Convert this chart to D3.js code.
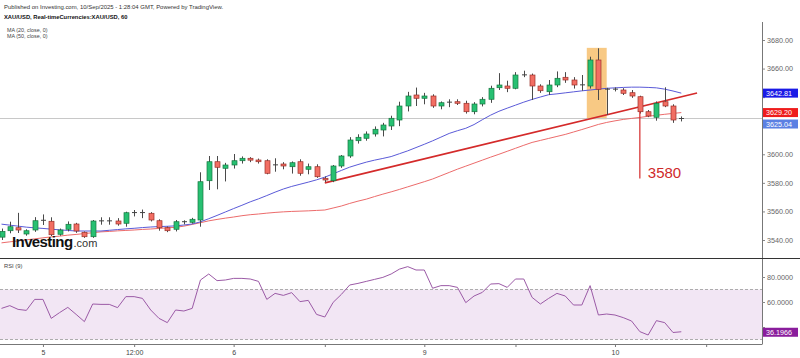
<!DOCTYPE html>
<html><head><meta charset="utf-8">
<script src="https://cdn.jsdelivr.net/npm/d3@7"></script>
<style>body{margin:0;background:#fff}svg{display:block;font-family:Arial,"Liberation Sans",sans-serif}</style>
</head><body><svg id="c" width="800" height="358"></svg>
<script>
// ---- data ----
const opens  = [3542,3546.5,3548.6,3544.2,3547,3553.2,3553.1,3544,3547.5,3551.2,3545.4,3542.3,3553.2,3553.4,3553.3,3551.7,3559.0,3559.2,3558.7,3553.5,3548.6,3547.5,3552.8,3552.4,3554,3581.5,3594.8,3590.2,3592.5,3595.5,3597.2,3596,3595.5,3592.3,3593.2,3591.3,3594.8,3589.5,3591.3,3583.2,3581.5,3591.8,3598.8,3609.5,3611.2,3614.2,3617,3619.8,3624,3633.8,3641.5,3639.2,3640.8,3633.8,3636.3,3636.8,3635.7,3629.8,3635.2,3638.5,3646.6,3647.8,3646.2,3655.4,3655.5,3647.8,3643.8,3648.5,3653.9,3652,3648.4,3647.8,3666,3645.6,3645.4,3645,3643.1,3640.3,3629.8,3625.9,3636.8,3633.8,3624.5];
const highs  = [3548,3552.8,3559,3547.5,3556,3557.9,3555.9,3548,3553,3552,3546,3554,3555.9,3555.9,3555.3,3559.8,3561,3561.3,3559.5,3554.5,3549.5,3554,3553.8,3555.5,3587.4,3598.8,3598.8,3594,3600.2,3598.5,3598,3597,3596.5,3597.2,3594.5,3595,3596.5,3593.5,3593,3584.5,3592.5,3599.5,3612,3614,3616,3619.5,3622,3627,3636.8,3643.7,3646.7,3643,3642,3637,3638.5,3638.5,3637.5,3636.5,3640,3648,3656.8,3651.5,3657.5,3658.5,3656.5,3649,3652,3658,3657.5,3654,3655.5,3668.3,3674.2,3646.5,3646.8,3646.3,3645,3641,3631,3637,3646.9,3635,3626.5];
const lows   = [3540,3544.7,3544.9,3543,3545.7,3550.5,3542.8,3543,3546,3545,3541.5,3541.5,3550.7,3550.7,3550,3549.3,3556.5,3555.3,3553,3546.5,3545.5,3546,3551,3551.5,3549.3,3575,3575.5,3581,3590,3593.5,3594.5,3593.5,3586,3587.8,3589.5,3586.5,3585,3586,3583.5,3580.5,3580.5,3590.5,3597.5,3607.5,3609.5,3612.4,3612.5,3617,3619.7,3630,3633.8,3635,3632.5,3631.5,3633,3634.5,3628.5,3628,3633.5,3636,3645,3643.5,3645.5,3654,3638,3643,3641.5,3647,3650,3646,3644.5,3646,3638,3627.5,3644,3641.5,3639.5,3628.5,3626,3623.5,3633,3622,3623];
const closes = [3546,3549.3,3547,3546.5,3553.5,3553.8,3543.7,3547,3551,3546.3,3542.3,3553.3,3553.4,3553.3,3551.2,3559.1,3559.2,3559.0,3554,3548.6,3546.5,3552.8,3552.1,3554.5,3580.8,3594.8,3590.9,3592.5,3595.5,3597.2,3595.9,3594.8,3586.7,3592.6,3591.8,3594.1,3586.7,3591.3,3584.3,3582,3591.8,3598.8,3610,3611.9,3614.2,3617.5,3620.5,3625.2,3633.8,3640.8,3639.2,3640.8,3633.8,3636.1,3636.5,3635.7,3629.8,3635.2,3638.5,3646.2,3648.5,3646.2,3655.5,3655.6,3647.8,3644.5,3648.5,3653.2,3652,3648.5,3648.6,3666,3645.5,3645.4,3645.6,3642.7,3640.8,3629.8,3626.8,3635.7,3633.8,3624,3625.04];
const ma20 = [3551.1,3550.4,3549.7,3549.0,3548.5,3548.1,3547.6,3547.1,3546.7,3546.3,3546.3,3546.3,3546.3,3546.8,3547.3,3547.8,3548.2,3548.7,3549.1,3549.4,3549.6,3549.9,3550.5,3551.2,3552.7,3554.9,3557.2,3559.6,3562.0,3564.3,3566.7,3568.8,3571.1,3573.5,3575.7,3577.5,3579.0,3580.5,3582.1,3584.0,3586.3,3588.7,3591.0,3592.8,3594.5,3595.9,3597.1,3598.4,3600.4,3602.4,3604.7,3607.0,3609.4,3612.0,3614.6,3616.5,3618.2,3620.8,3624.2,3627.4,3630.1,3632.3,3634.4,3636.5,3638.4,3640.1,3641.7,3642.3,3643.0,3643.7,3644.4,3645.0,3645.6,3646.2,3646.5,3646.8,3647.0,3647.0,3646.8,3646.5,3645.6,3644.3,3642.81];
const ma50 = [3538.0,3538.7,3539.4,3540.1,3540.8,3541.5,3542.2,3542.7,3543.4,3543.9,3544.5,3545.1,3545.7,3546.0,3546.4,3546.7,3547.0,3547.4,3547.7,3548.1,3548.5,3548.9,3549.7,3550.9,3552.1,3553.4,3554.4,3555.3,3556.1,3557.0,3557.7,3558.2,3558.8,3559.3,3559.7,3560.0,3560.2,3560.4,3560.7,3561.0,3562.4,3563.8,3565.6,3567.2,3568.6,3570.4,3572.1,3573.7,3575.4,3577.2,3579.0,3580.8,3582.7,3585.0,3587.3,3589.6,3591.7,3593.8,3595.9,3598.0,3600.0,3602.1,3604.2,3606.3,3608.3,3609.7,3611.1,3612.5,3613.9,3615.6,3617.3,3619.1,3620.9,3622.3,3623.4,3624.4,3625.1,3625.8,3626.6,3627.3,3628.0,3628.6,3629.2];
const rsi = [54.9,57.1,54.1,53.3,62.1,62.1,46.9,51.5,55.7,50.1,44.3,58.4,58.1,58.1,55.5,64.3,64.3,62.9,53.6,46.9,43.5,53.6,52.8,54.9,77.6,82.4,77.1,77.6,78.9,78.9,78.4,76.5,62.1,66.9,65.3,67.5,60.3,61.3,50.1,48.0,59.7,66.1,73.6,74.9,76.5,78.1,79.7,82.4,86.3,88.3,85.6,85.6,71.0,73.1,73.1,71.7,59.5,64.8,67.7,74.4,74.7,71.7,78.4,78.4,63.7,58.4,62.9,66.9,64.8,57.6,57.6,73.1,49.6,50.4,49.6,47.5,44.8,36.3,33.6,45.1,43.5,35.6,36.2];
const priceTicks = [3540,3560,3580,3600,3620,3640,3660,3680];
const priceTickLabelsShown = [3540,3560,3580,3600,3660,3680];
const rsiTicks = [40,60,80];
const rsiTickLabelsShown = [60,80];
const timeTickIdx = [5,16,28,39,51,62,74,85];
const timeTickLabels = ["5","12:00","6","","9","","10",""];
const lastPrice = 3625.04, ma20Last = 3642.81, ma50Last = 3629.20, rsiLast = 36.1966;
const trendStart = [39, 3580], trendEnd = [83.9, 3642.9];
const boxIdx = [70.6, 73.0], boxPrice = [3674.5, 3624.5];
const vIdx = 77, vPrice = [3630, 3583];
const annText = "3580";
const headerLines = ["Published on Investing.com, 10/Sep/2025 - 1:28:04 GMT, Powered by TradingView.","XAU/USD, Real-timeCurrencies:XAU/USD, 60"];
const maLabels = ["MA (20, close, 0)","MA (50, close, 0)"];

// ---- drawing ----
const svg = d3.select("#c");
const x = d3.scaleLinear().domain([0, 82]).range([1.5, 681.3]);
const yP = d3.scaleLinear().domain([3540, 3680]).range([240, 40]);
const yR = d3.scaleLinear().domain([40, 80]).range([327, 277]);
const axX = 762;

// header
svg.append("text").attr("x",4).attr("y",8.5).attr("font-size",5.95).attr("fill","#333").text(headerLines[0]);
svg.append("text").attr("x",4).attr("y",19).attr("font-size",5.8).attr("font-weight","bold").attr("fill","#111").text(headerLines[1]);
maLabels.forEach((t,i)=>svg.append("text").attr("x",7).attr("y",32+i*5.5).attr("font-size",5.4).attr("fill","#444").text(t));

// orange box
svg.append("rect").attr("x",x(boxIdx[0])).attr("y",yP(boxPrice[0])).attr("width",x(boxIdx[1])-x(boxIdx[0])).attr("height",yP(boxPrice[1])-yP(boxPrice[0])).attr("fill","#f7bf6e").attr("opacity",0.85);

// last price line
svg.append("line").attr("x1",0).attr("x2",axX).attr("y1",yP(lastPrice)).attr("y2",yP(lastPrice)).attr("stroke","#c8c8c8").attr("stroke-width",1);

// MAs
const line = d3.line().x((d,i)=>x(i)).y(d=>yP(d));
svg.append("path").attr("d",line(ma50)).attr("fill","none").attr("stroke","#ec6b6b").attr("stroke-width",1);
svg.append("path").attr("d",line(ma20)).attr("fill","none").attr("stroke","#5a5ad8").attr("stroke-width",1);

// trend line
svg.append("line").attr("x1",x(trendStart[0])).attr("y1",yP(trendStart[1])).attr("x2",x(trendEnd[0])).attr("y2",yP(trendEnd[1])).attr("stroke","#d42a2a").attr("stroke-width",1.6);

// candles
const g = svg.append("g");
opens.forEach((o,i)=>{
  const c = closes[i], up = c >= o;
  const cx = Math.round(x(i)) + 0.5;
  const fill = up ? "#27c072" : "#f26e63";
  const stroke = up ? "#17753f" : "#9a3029";
  g.append("line").attr("x1",cx).attr("x2",cx).attr("y1",yP(highs[i])).attr("y2",yP(lows[i])).attr("stroke","#4a4a4a").attr("stroke-width",1);
  const top = yP(Math.max(o,c)), h = Math.abs(yP(o)-yP(c));
  if (h < 1.2) {
    g.append("line").attr("x1",cx-2.5).attr("x2",cx+2.5).attr("y1",top).attr("y2",top).attr("stroke","#444").attr("stroke-width",1);
  } else {
    g.append("rect").attr("x",cx-2.5).attr("y",top).attr("width",5).attr("height",h).attr("fill",fill).attr("stroke",stroke).attr("stroke-width",0.7);
  }
});

// vertical annotation
svg.append("line").attr("x1",x(vIdx)).attr("x2",x(vIdx)).attr("y1",yP(vPrice[0])).attr("y2",yP(vPrice[1])).attr("stroke","#d42a2a").attr("stroke-width",1.2);
svg.append("text").attr("x",x(vIdx)+8).attr("y",yP(3583.5)).attr("font-size",15).attr("fill","#cf2a2a").text(annText);

// logo
const logo = svg.append("text").attr("x",12).attr("y",247);
logo.append("tspan").attr("font-size",15).attr("font-weight","bold").attr("letter-spacing","-0.6").attr("fill","#111").text("Investing");
logo.append("tspan").attr("font-size",11).attr("fill","#333").attr("dx",1).text(".com");

// price axis (labels hidden behind tags are omitted)
const pa = svg.append("g").attr("transform",`translate(${axX},0)`)
  .call(d3.axisRight(yP).tickValues(priceTicks).tickFormat(d=>priceTickLabelsShown.includes(d)?d3.format(".2f")(d):"").tickSize(3).tickPadding(2));
pa.select(".domain").remove();
pa.selectAll("line").attr("stroke","#888");
pa.selectAll("text").attr("font-size",7.2).attr("fill","#666");
svg.append("line").attr("x1",axX+0.5).attr("x2",axX+0.5).attr("y1",22).attr("y2",344).attr("stroke","#777");

// price labels
function tag(yv, txt, col, dy){
  const yy = yv + (dy||0);
  svg.append("rect").attr("x",axX+1).attr("y",yy-4.5).attr("width",35).attr("height",9).attr("fill",col);
  svg.append("text").attr("x",axX+4).attr("y",yy+2.6).attr("font-size",7.2).attr("fill","#fff").text(txt);
}
tag(yP(ma20Last), ma20Last.toFixed(2), "#1a1ae6", 0);
tag(yP(ma50Last), ma50Last.toFixed(2), "#ee1c1c", 0);
tag(yP(lastPrice), lastPrice.toFixed(2), "#5b80e3", 5.5);

// panel separator
svg.append("line").attr("x1",0).attr("x2",800).attr("y1",258.5).attr("y2",258.5).attr("stroke","#333").attr("stroke-width",1);

// RSI panel
svg.append("text").attr("x",4).attr("y",268).attr("font-size",5.8).attr("fill","#444").text("RSI (9)");
svg.append("rect").attr("x",0).attr("y",yR(70)).attr("width",axX).attr("height",yR(30)-yR(70)).attr("fill","#f2e6f4");
[70,30].forEach(v=>svg.append("line").attr("x1",0).attr("x2",axX).attr("y1",yR(v)).attr("y2",yR(v)).attr("stroke","#999").attr("stroke-dasharray","3,2").attr("stroke-width",0.8));
svg.append("path").attr("d",d3.line().x((d,i)=>x(i)).y(d=>yR(d))(rsi)).attr("fill","none").attr("stroke","#9b5aa6").attr("stroke-width",1);
const ra = svg.append("g").attr("transform",`translate(${axX},0)`)
  .call(d3.axisRight(yR).tickValues(rsiTicks).tickFormat(d=>rsiTickLabelsShown.includes(d)?d3.format(".4f")(d):"").tickSize(3).tickPadding(2));
ra.select(".domain").remove();
ra.selectAll("line").attr("stroke","#888");
ra.selectAll("text").attr("font-size",7.2).attr("fill","#666");
svg.append("rect").attr("x",axX+1).attr("y",yR(rsiLast)-4).attr("width",35).attr("height",9).attr("fill","#8a1d9c");
svg.append("text").attr("x",axX+4).attr("y",yR(rsiLast)+3).attr("font-size",7.2).attr("fill","#fff").text(rsiLast.toFixed(4));

// time axis
const ta = svg.append("g").attr("transform","translate(0,344)")
  .call(d3.axisBottom(x).tickValues(timeTickIdx).tickFormat((d,i)=>timeTickLabels[i]).tickSize(3).tickPadding(3));
ta.select(".domain").remove();
ta.selectAll("line").attr("stroke","#777");
ta.selectAll("text").attr("font-size",7).attr("fill","#444");
svg.append("line").attr("x1",0).attr("x2",axX+0.5).attr("y1",344.5).attr("y2",344.5).attr("stroke","#777");
</script></body></html>
